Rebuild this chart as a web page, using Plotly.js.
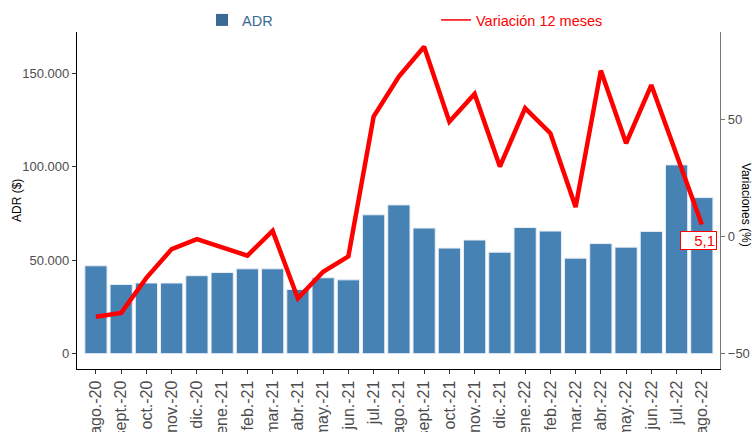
<!DOCTYPE html>
<html>
<head>
<meta charset="utf-8">
<script src="https://cdn.plot.ly/plotly-3.0.1.min.js"></script>
<style>html,body{margin:0;padding:0;background:#fff;}#chart{width:752px;height:432px;}</style>
</head>
<body>
<div id="chart"></div>
<script>
var months = ['ago.-20','sept.-20','oct.-20','nov.-20','dic.-20','ene.-21','feb.-21','mar.-21','abr.-21','may.-21','jun.-21','jul.-21','ago.-21','sept.-21','oct.-21','nov.-21','dic.-21','ene.-22','feb.-22','mar.-22','abr.-22','may.-22','jun.-22','jul.-22','ago.-22'];
var adr = [47000,37000,37800,37800,41700,43400,45400,45400,34400,40600,39500,74300,79600,67200,56500,60800,54300,67500,65600,51100,58900,57000,65400,101000,83500];
var variacion = [-34.3,-32.7,-17.7,-5.4,-1.1,-4.4,-8.2,2.4,-26.5,-15.1,-8.5,51.3,68.4,81.2,49.1,61.0,29.9,54.9,44.2,12.6,71.0,39.9,64.8,35.0,5.1];
var leftTickVals = [0,50000,100000,150000];
var leftTickText = ['0','50.000','100.000','150.000'];
var rightTickVals = [-50,0,50];
var lastLabel = '5,1';

var FONT = 'Liberation Sans, Arial, sans-serif';

var traces = [
  {type:'bar', x:months, y:adr, yaxis:'y', showlegend:false,
   marker:{color:'#4682B4', line:{color:'#e8eef6', width:1}}, hoverinfo:'skip'},
  {type:'scatter', mode:'lines', x:months, y:variacion, yaxis:'y2', showlegend:false,
   line:{color:'#FF0000', width:4.5}, hoverinfo:'skip'},
  {type:'bar', x:[null], y:[null], name:'ADR', legend:'legend', showlegend:true,
   marker:{color:'#3A6A94'}},
  {type:'scatter', mode:'lines', x:[null], y:[null], yaxis:'y2', name:'Variación 12 meses', legend:'legend2', showlegend:true,
   line:{color:'#FF0000', width:1.5}}
];

var layout = {
  width:752, height:432,
  margin:{l:77, r:32, t:32, b:63, pad:0, autoexpand:false},
  paper_bgcolor:'#fff', plot_bgcolor:'#fff',
  font:{family:FONT, color:'#4d4d4d'},
  bargap:0.12,
  xaxis:{type:'category', range:[-0.75,24.72], showgrid:false, zeroline:false, automargin:false,
    showline:true, linecolor:'#000', linewidth:1.2, ticks:'outside', ticklen:4, tickcolor:'#333',
    tickangle:-90, tickfont:{size:16, color:'#4d4d4d', family:FONT}, fixedrange:true},
  yaxis:{range:[-8200,172100], tickvals:leftTickVals, ticktext:leftTickText, showgrid:false, zeroline:false, automargin:false,
    showline:true, linecolor:'#000', linewidth:1.2, ticks:'outside', ticklen:4, tickcolor:'#333',
    tickfont:{size:13, color:'#4d4d4d', family:FONT}},
  yaxis2:{overlaying:'y', side:'right', range:[-56.7,87.5], tickvals:rightTickVals, showgrid:false, zeroline:false, automargin:false,
    showline:true, linecolor:'#777', linewidth:1.2, ticks:'outside', ticklen:4, tickcolor:'#777',
    tickfont:{size:13, color:'#4d4d4d', family:FONT}},
  legend:{orientation:'h', xref:'container', yref:'container', x:0.2686, xanchor:'left', y:0.9537, yanchor:'middle', bgcolor:'rgba(0,0,0,0)',
    font:{size:14.5, color:'#3A6A94', family:FONT}},
  legend2:{orientation:'h', xref:'container', yref:'container', x:0.5798, xanchor:'left', y:0.9537, yanchor:'middle', bgcolor:'rgba(0,0,0,0)',
    font:{size:14.5, color:'#FF0000', family:FONT}},
  annotations:[
    {xref:'x', yref:'y2', x:months[months.length-1], y:variacion[variacion.length-1], text:lastLabel,
     showarrow:false, font:{size:15, color:'#FF0000', family:FONT}, bgcolor:'#fff', bordercolor:'#FF0000',
     borderwidth:1, borderpad:1, width:33, height:15, align:'right', yshift:-16, xshift:-3},
    {xref:'paper', yref:'paper', x:-0.0941, xanchor:'center', yanchor:'middle', y:0.5, text:'ADR ($)', textangle:-90, showarrow:false,
     font:{size:12, color:'#000', family:FONT}},
    {xref:'paper', yref:'paper', x:1.0404, xanchor:'center', yanchor:'middle', y:0.487, text:'Variaciones (%)', textangle:90, showarrow:false,
     font:{size:12, color:'#000', family:FONT}}
  ]
};

Plotly.newPlot('chart', traces, layout, {displayModeBar:false, staticPlot:true});
</script>
</body>
</html>
